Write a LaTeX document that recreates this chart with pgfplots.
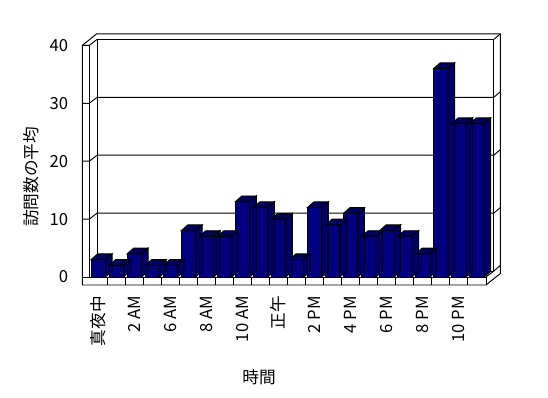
\documentclass[border=0pt]{standalone}
\usepackage{pgfplots}
\pgfplotsset{compat=1.18}
\usepackage{fontspec}
\setmainfont{Noto Sans CJK JP}
\definecolor{navyfront}{HTML}{000080}
\definecolor{navytop}{HTML}{00005E}
\definecolor{navyside}{HTML}{00006A}
\newcommand\lbl{\fontsize{12.5pt}{15pt}\selectfont}
\begin{document}
\begin{tikzpicture}
\useasboundingbox (0,0) rectangle (411pt,298.5pt);
% chart walls and floor (pixel coordinates of the reference)
\begin{scope}[shift={(0,298.5pt)}, x=0.75pt, y=-0.75pt, line width=0.7pt, line join=miter]
  \filldraw[fill=white, draw=black] (82.3,285) -- (82.3,45.4) -- (96.6,33.9) -- (500.3,33.9) -- (500.3,273.5) -- (486,285) -- cycle;
  \draw (82.3,45.4) -- (89.3,45.4) -- (97.1,39.4);
  \draw (89.3,45.4) -- (89.3,277) -- (486,277) -- (486,285);
  \draw (486,277) -- (493.8,271);
  \draw (97.1,271) -- (97.1,39.4) -- (493.8,39.4) -- (493.8,271) -- cycle;
  \draw (493.8,39.4) -- (500.3,33.9);
  \foreach \v in {10,20,30} {
    \pgfmathsetmacro\yy{277-5.79*\v}
    \draw (82.3,\yy) -- (89.3,\yy) -- (97.1,\yy-6) -- (493.8,\yy-6) -- (500.3,\yy-11.5);
  }
  \draw (82.3,277) -- (89.3,277);
  \draw (493.8,271) -- (500.3,265.5);
  \foreach \k in {1,...,21} {
    \draw ({89.3+18.03*\k},277) -- ({89.3+18.03*\k},285);
  }
  \node[rotate=90, inner sep=0pt] at (31,177) {\lbl 訪問数の平均};
  \node[inner sep=0pt] at (259,377) {\lbl 時間};
\end{scope}
\begin{axis}[
  at={(66.975pt,90.75pt)}, anchor=south west,
  scale only axis, width=297.5pt, height=173.7pt,
  xmin=-0.5, xmax=21.5, ymin=0, ymax=40,
  enlargelimits=false, clip=false,
  axis line style={draw=none}, major tick length=0pt, tick style={draw=none},
  ytick={0,10,20,30,40},
  /pgf/number format/assume math mode=true,
  yticklabel style={font=\lbl, inner sep=0pt, anchor=east},
  yticklabel shift=15.6pt,
  xtick={0,2,4,6,8,10,12,14,16,18,20},
  xticklabels={真夜中,2 AM,6 AM,8 AM,10 AM,正午,2 PM,4 PM,6 PM,8 PM,10 PM},
  xticklabel style={font=\lbl, rotate=90, anchor=east, inner sep=0pt},
  xticklabel shift=14.3pt,
]
\addplot[
  only marks, scatter, mark=*, mark size=0pt,
  scatter/use mapped color={draw opacity=0, fill opacity=0},
  visualization depends on={y \as \bv},
  scatter/@pre marker code/.code={%
    \filldraw[fill=navytop, draw=black, line width=0.7pt, fill opacity=1, draw opacity=1]
      (axis direction cs:-0.4,0) -- ++(4.9pt,4.3pt) -- ++(axis direction cs:0.8,0) -- (axis direction cs:0.4,0) -- cycle;
    \filldraw[fill=navyside, draw=black, line width=0.7pt, fill opacity=1, draw opacity=1]
      (axis direction cs:0.4,0) -- ++(4.9pt,4.3pt) -- ++(axis direction cs:0,-\bv) -- ++(-4.9pt,-4.3pt) -- cycle;
  },
  scatter/@post marker code/.code={},
] coordinates {
(0,3) (1,2) (2,4) (3,2) (4,2) (5,8) (6,7) (7,7) (8,13) (9,12) (10,10)
(11,3) (12,12) (13,9) (14,11) (15,7) (16,8) (17,7) (18,4) (19,36) (20,26.5) (21,26.5)
};
\addplot[ybar, bar width=0.8, fill=navyfront, draw=black, line width=0.7pt] coordinates {
(0,3) (1,2) (2,4) (3,2) (4,2) (5,8) (6,7) (7,7) (8,13) (9,12) (10,10)
(11,3) (12,12) (13,9) (14,11) (15,7) (16,8) (17,7) (18,4) (19,36) (20,26.5) (21,26.5)
};
\end{axis}
\end{tikzpicture}
\end{document}
